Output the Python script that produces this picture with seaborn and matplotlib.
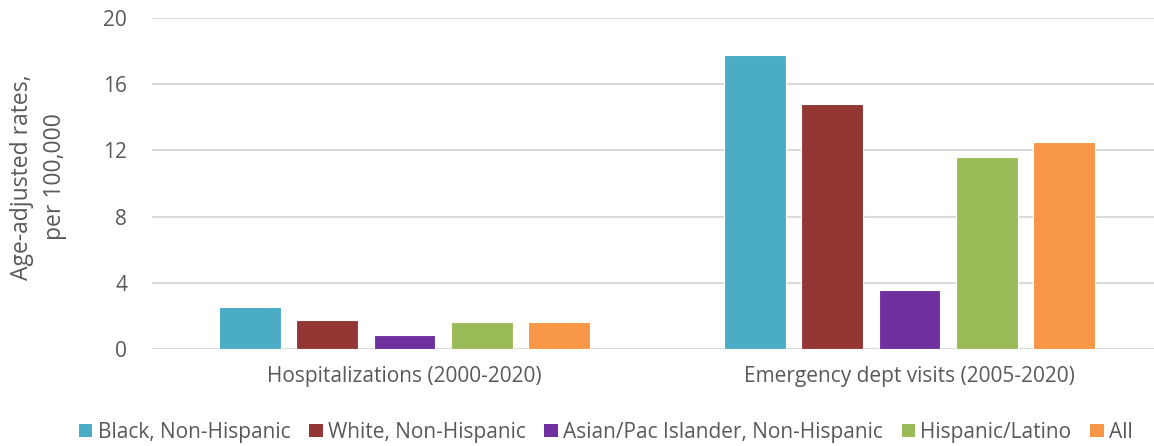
import matplotlib
matplotlib.use("Agg")
import matplotlib.pyplot as plt
import seaborn as sns
import pandas as pd
from matplotlib.patches import Patch

categories = ["Hospitalizations (2000-2020)", "Emergency dept visits (2005-2020)"]
groups = ["Black, Non-Hispanic", "White, Non-Hispanic", "Asian/Pac Islander, Non-Hispanic", "Hispanic/Latino", "All"]
black = [2.52, 17.75]
white = [1.75, 14.8]
asian = [0.85, 3.55]
hispanic = [1.62, 11.6]
all_ = [1.66, 12.5]
colors = ["#4BACC6", "#943634", "#7030A0", "#9BBB59", "#F79646"]
yticks = [0, 4, 8, 12, 16, 20]

rows = []
for g, vals in zip(groups, [black, white, asian, hispanic, all_]):
    for c, v in zip(categories, vals):
        rows.append({"cat": c, "group": g, "val": v})
df = pd.DataFrame(rows)

sns.set_theme(style="white")
plt.rcParams['font.family'] = ['Open Sans', 'DejaVu Sans']
txt = "#595959"

fig = plt.figure(figsize=(11.54, 4.46), dpi=100)
ax = fig.add_axes([152/1154, 1-349/446, (1162-152)/1154, (349-18)/446])
sns.barplot(data=df, x="cat", y="val", hue="group", hue_order=groups, order=categories,
            palette=colors, width=0.767, gap=0.2, ax=ax, saturation=1, legend=False,
            linewidth=0.8, edgecolor="white")
ax.set_ylim(0, 20)
ax.set_yticks(yticks)
ax.set_xlim(-0.5, 1.5)
ax.yaxis.grid(True, color="#d9d9d9", linewidth=1.5)
ax.set_axisbelow(True)
for s in ax.spines.values():
    s.set_visible(False)
ax.tick_params(axis="y", labelsize=15, colors=txt, length=0, pad=18)
ax.tick_params(axis="x", labelsize=15, colors=txt, length=0, pad=12)
ax.set_xlabel("")
ax.set_ylabel("Age-adjusted rates,\nper 100,000", fontsize=16.5, color=txt, linespacing=1.5)
ax.yaxis.set_label_coords(-(152 - 67) / (1162 - 152), 0.52)

handles = [Patch(facecolor=c, edgecolor="none") for c in colors]
fig.legend(handles, groups, loc="lower center", bbox_to_anchor=(0.525, -0.035), ncol=5,
           frameon=False, fontsize=15, labelcolor=txt, handlelength=0.65, handleheight=0.65,
           handletextpad=0.25, columnspacing=0.9)
fig.savefig("out.png", dpi=100)
